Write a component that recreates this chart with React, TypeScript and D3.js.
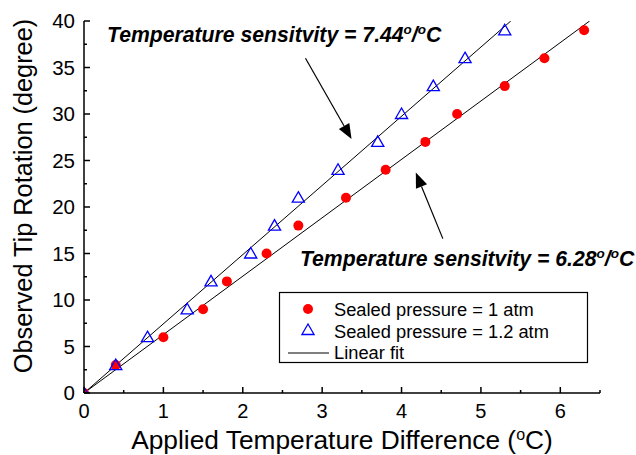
import React from "react";
import * as d3 from "d3";

const W = 636;
const H = 455;
const M = { left: 84, right: 36, top: 21, bottom: 62 };

// Data: sealed pressure = 1 atm (red circles)
const x1atm = [0, 0.4, 1.0, 1.5, 1.8, 2.3, 2.7, 3.3, 3.8, 4.3, 4.7, 5.3, 5.8, 6.3];
const y1atm = [0, 3, 6, 9, 12, 15, 18, 21, 24, 27, 30, 33, 36, 39];
// Data: sealed pressure = 1.2 atm (blue triangles)
const x12atm = [0, 0.4, 0.8, 1.3, 1.6, 2.1, 2.4, 2.7, 3.2, 3.7, 4.0, 4.4, 4.8, 5.3];
const y12atm = [0, 3, 6, 9, 12, 15, 18, 21, 24, 27, 30, 33, 36, 39];
// Linear fit slopes
const slopes = [6.28, 7.44];

const xTicks = [0, 1, 2, 3, 4, 5, 6];
const yTicks = [0, 5, 10, 15, 20, 25, 30, 35, 40];
const xMinor = [0.5, 1.5, 2.5, 3.5, 4.5, 5.5, 6.5];
const yMinor = [2.5, 7.5, 12.5, 17.5, 22.5, 27.5, 32.5, 37.5];

const legendLabels = ["Sealed pressure = 1 atm", "Sealed pressure = 1.2 atm", "Linear fit"];
const annoValues = ["7.44", "6.28"];
// annotation anchors (data coords): text start, arrow start, arrow end
const annoText = [[0.29, 37.7], [2.72, 13.65]];
const arrowFrom = [[2.79, 36.0], [4.52, 16.6]];
const arrowTo = [[3.37, 27.3], [4.18, 23.7]];

const FONT = "'Liberation Sans', Arial, Helvetica, sans-serif";

export default function App() {
  const x = d3.scaleLinear().domain([0, 6.5]).range([M.left, W - M.right]);
  const y = d3.scaleLinear().domain([0, 40]).range([H - M.bottom, M.top]);
  const x0 = x(0), y0 = y(0);

  const tri = d3.symbol().type(d3.symbolTriangle).size(64);

  const arrowHead = (fx: number, fy: number, tx: number, ty: number) => {
    const ax = x(fx), ay = y(fy), bx = x(tx), by = y(ty);
    const dx = bx - ax, dy = by - ay;
    const L = Math.hypot(dx, dy);
    const ux = dx / L, uy = dy / L;
    const len = 15, hw = 6;
    const px = bx - ux * len, py = by - uy * len;
    return {
      line: { x1: ax, y1: ay, x2: px, y2: py },
      pts: `${bx},${by} ${px - uy * hw},${py + ux * hw} ${px + uy * hw},${py - ux * hw}`,
    };
  };

  const lineGen = d3.line<number[]>().x((d) => x(d[0])).y((d) => y(d[1]));

  return (
    <svg width={W} height={H} style={{ position: "absolute", left: 0, top: 0, background: "#fff" }} fontFamily={FONT}>
      <defs>
        <clipPath id="plotclip">
          <rect x={x0} y={y(40)} width={x(6.5) - x0} height={y0 - y(40)} />
        </clipPath>
      </defs>
      <rect x={0} y={0} width={W} height={H} fill="#fff" />

      {/* fit lines */}
      <g clipPath="url(#plotclip)">
        {slopes.map((s, i) => (
          <path key={i} d={lineGen([[0, 0], [40 / s, 40]]) || ""} stroke="#000" strokeWidth={1} fill="none" />
        ))}
        {x1atm.map((v, i) => (
          <circle key={"c" + i} cx={x(v)} cy={y(y1atm[i])} r={5} fill="#ff0000" />
        ))}
        {x12atm.map((v, i) => (
          <path key={"t" + i} d={tri() || ""} transform={`translate(${x(v)},${y(y12atm[i]) + 1})`} fill="none" stroke="#0000ff" strokeWidth={1.3} />
        ))}
      </g>

      {/* axes */}
      <line x1={x0} y1={y(40)} x2={x0} y2={y0} stroke="#000" strokeWidth={1.5} />
      <line x1={x0} y1={y0} x2={x(6.5)} y2={y0} stroke="#000" strokeWidth={1.5} />
      {xTicks.map((t) => (
        <g key={"xt" + t}>
          <line x1={x(t)} x2={x(t)} y1={y0} y2={y0 - 6} stroke="#000" strokeWidth={1.5} />
          <text x={x(t)} y={418} textAnchor="middle" fontSize={20}>{t}</text>
        </g>
      ))}
      {xMinor.map((t) => (
        <line key={"xm" + t} x1={x(t)} x2={x(t)} y1={y0} y2={y0 - 3} stroke="#000" strokeWidth={1.5} />
      ))}
      {yTicks.map((t) => (
        <g key={"yt" + t}>
          <line x1={x0} x2={x0 + 6} y1={y(t)} y2={y(t)} stroke="#000" strokeWidth={1.5} />
          <text x={75} y={y(t) + 7} textAnchor="end" fontSize={20.5}>{t}</text>
        </g>
      ))}
      {yMinor.map((t) => (
        <line key={"ym" + t} x1={x0} x2={x0 + 3} y1={y(t)} y2={y(t)} stroke="#000" strokeWidth={1.5} />
      ))}

      {/* axis titles */}
      <text x={342} y={449} textAnchor="middle" fontSize={26.3}>
        Applied Temperature Difference (<tspan dy={-9} fontSize={16}>o</tspan><tspan dy={9}>C)</tspan>
      </text>
      <text transform="translate(32,196) rotate(-90)" textAnchor="middle" fontSize={25.3}>
        Observed Tip Rotation (degree)
      </text>

      {/* annotations */}
      {annoValues.map((v, i) => {
        const a = arrowHead(arrowFrom[i][0], arrowFrom[i][1], arrowTo[i][0], arrowTo[i][1]);
        return (
          <g key={"a" + i}>
            <text x={x(annoText[i][0])} y={y(annoText[i][1])} fontSize={21.2} fontWeight="bold" fontStyle="italic">
              Temperature sensitvity = {v}
              <tspan dy={-8} fontSize={13.5}>o</tspan>
              <tspan dy={8}>/</tspan>
              <tspan dy={-8} fontSize={13.5}>o</tspan>
              <tspan dy={8}>C</tspan>
            </text>
            <line {...a.line} stroke="#000" strokeWidth={1.2} />
            <polygon points={a.pts} fill="#000" />
          </g>
        );
      })}

      {/* legend */}
      <g>
        <rect x={279.5} y={292.5} width={308} height={70} fill="#fff" stroke="#000" strokeWidth={1.2} />
        <circle cx={308} cy={309} r={5} fill="#ff0000" />
        <path d={tri() || ""} transform="translate(308,331)" fill="none" stroke="#0000ff" strokeWidth={1.3} />
        <line x1={288} x2={329} y1={353} y2={353} stroke="#000" strokeWidth={1} />
        {legendLabels.map((l, i) => (
          <text key={l} x={334} y={316 + i * 21.5} fontSize={18.3}>{l}</text>
        ))}
      </g>
    </svg>
  );
}
